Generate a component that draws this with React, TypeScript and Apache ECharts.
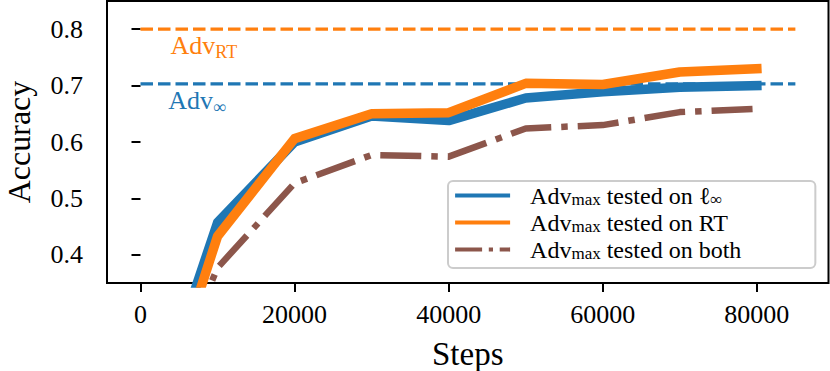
import React, { useEffect, useRef } from 'react';
import * as echarts from 'echarts';

// ---- data ----
const steps = [0, 10000, 20000, 30000, 40000, 50000, 60000, 70000, 80000];
const testedOnLinf = [0.05, 0.457, 0.6, 0.646, 0.638, 0.678, 0.689, 0.697, 0.7];
const testedOnRT = [0.01, 0.433, 0.606, 0.65, 0.652, 0.704, 0.702, 0.724, 0.73];
const testedOnBoth = [0.05, 0.377, 0.527, 0.577, 0.574, 0.624, 0.63, 0.653, 0.659];

const refSteps = [0, 85000];
const advRTLevel = 0.8;
const advInfLevel = 0.703;

const xTicks = [0, 20000, 40000, 60000, 80000];
const yTicks = [0.4, 0.5, 0.6, 0.7, 0.8];

const seriesNames = [
  'Adv_max tested on linf',
  'Adv_max tested on RT',
  'Adv_max tested on both',
];
const legendLabels = [
  '{f|Adv}{s|max}{m| tested on ℓ}{s|∞}',
  '{f|Adv}{s|max}{m| tested on RT}',
  '{f|Adv}{s|max}{m| tested on both}',
];

const BLUE = '#1f77b4';
const ORANGE = '#ff7f0e';
const BROWN = '#8c564b';
const FONT = "'Liberation Serif', 'DejaVu Serif', serif";

const zip = (xs: number[], ys: number[]) => xs.map((x, i) => [x, ys[i]]);

export default function App() {
  const ref = useRef<HTMLDivElement>(null);
  useEffect(() => {
    if (!ref.current) return;
    const chart = echarts.init(ref.current, null, { renderer: 'svg' });
    const annotationRich = {
      m: { fontSize: 26, lineHeight: 26, fontFamily: FONT },
      s: { fontSize: 18, lineHeight: 26, padding: [12, 0, 0, 0], fontFamily: FONT },
    };
    const hidden = { opacity: 0, borderWidth: 0 };
    const option: any = {
      animation: false,
      textStyle: { fontFamily: FONT, color: '#000' },
      grid: {
        left: 107,
        right: 1.5,
        top: 1,
        bottom: 88,
        show: true,
        borderColor: '#000',
        borderWidth: 2,
        backgroundColor: 'transparent',
        outerBoundsMode: 'none',
        containLabel: false,
      },
      xAxis: {
        type: 'value',
        min: -4348,
        max: 89300,
        name: 'Steps',
        nameLocation: 'middle',
        nameGap: 54,
        nameTextStyle: { fontSize: 33, fontFamily: FONT, color: '#000' },
        axisLine: { show: false },
        splitLine: { show: false },
        axisTick: {
          show: true,
          length: 9,
          lineStyle: { color: '#000', width: 2 },
          customValues: xTicks,
        },
        axisLabel: {
          customValues: xTicks,
          margin: 18,
          fontSize: 26,
          color: '#000',
          fontFamily: FONT,
          formatter: (v: number) => String(v),
        },
      },
      yAxis: {
        type: 'value',
        min: 0.35,
        max: 0.85,
        name: 'Accuracy',
        nameLocation: 'middle',
        nameRotate: 90,
        nameGap: 72,
        nameTextStyle: { fontSize: 32, fontFamily: FONT, color: '#000' },
        axisLine: { show: false },
        splitLine: { show: false },
        axisTick: {
          show: true,
          length: 9,
          lineStyle: { color: '#000', width: 2 },
          customValues: yTicks,
        },
        axisLabel: {
          customValues: yTicks,
          margin: 24,
          fontSize: 26,
          color: '#000',
          fontFamily: FONT,
          formatter: (v: number) => v.toFixed(1),
        },
      },
      legend: {
        orient: 'vertical',
        left: 448,
        top: 181,
        selectedMode: false,
        data: [
          { name: seriesNames[0], itemStyle: hidden },
          { name: seriesNames[1], itemStyle: hidden },
          { name: seriesNames[2], itemStyle: hidden, lineStyle: { type: [27, 6.7, 4.2, 6.7] } },
        ],
        itemWidth: 55,
        itemHeight: 14,
        itemGap: 2,
        padding: [2, 74, 6, 5],
        backgroundColor: 'rgba(255,255,255,0.8)',
        borderColor: '#cccccc',
        borderWidth: 2,
        borderRadius: 5,
        itemStyle: hidden,
        lineStyle: { width: 4.2, cap: 'butt', opacity: 1 },
        formatter: (name: string) => legendLabels[seriesNames.indexOf(name)],
        textStyle: {
          color: '#000',
          fontFamily: FONT,
          rich: {
            f: { fontSize: 24, lineHeight: 24, padding: [0, 0, 0, 15], fontFamily: FONT },
            m: { fontSize: 24, lineHeight: 24, fontFamily: FONT },
            s: { fontSize: 17, lineHeight: 24, padding: [8, 0, 0, 0], fontFamily: FONT },
          },
        },
      },
      series: [
        {
          name: 'Adv_RT',
          type: 'line',
          data: zip(refSteps, refSteps.map(() => advRTLevel)),
          symbol: 'none',
          lineStyle: { color: ORANGE, width: 3.3, type: [12.5, 5], cap: 'butt' },
          silent: true,
          markPoint: {
            symbol: 'circle',
            symbolSize: 0,
            silent: true,
            data: [
              {
                coord: [3900, 0.7704],
                label: {
                  show: true,
                  position: 'right',
                  distance: 0,
                  color: ORANGE,
                  formatter: '{m|Adv}{s|RT}',
                  rich: annotationRich,
                },
              },
            ],
          },
        },
        {
          name: 'Adv_inf',
          type: 'line',
          data: zip(refSteps, refSteps.map(() => advInfLevel)),
          symbol: 'none',
          lineStyle: { color: BLUE, width: 3.3, type: [12.5, 5], cap: 'butt' },
          silent: true,
          markPoint: {
            symbol: 'circle',
            symbolSize: 0,
            silent: true,
            data: [
              {
                coord: [3600, 0.6729],
                label: {
                  show: true,
                  position: 'right',
                  distance: 0,
                  color: BLUE,
                  formatter: '{m|Adv}{s|∞}',
                  rich: annotationRich,
                },
              },
            ],
          },
        },
        {
          name: seriesNames[0],
          type: 'line',
          data: zip(steps, testedOnLinf),
          symbol: 'none',
          color: BLUE,
          lineStyle: { color: BLUE, width: 9.5, cap: 'square', join: 'round' },
        },
        {
          name: seriesNames[1],
          type: 'line',
          data: zip(steps, testedOnRT),
          symbol: 'none',
          color: ORANGE,
          lineStyle: { color: ORANGE, width: 9.5, cap: 'square', join: 'round' },
        },
        {
          name: seriesNames[2],
          type: 'line',
          data: zip(steps, testedOnBoth),
          symbol: 'none',
          color: BROWN,
          lineStyle: { color: BROWN, width: 6.5, type: [41, 10, 6.5, 10], cap: 'butt', join: 'round' },
        },
      ],
    };
    chart.setOption(option);
    return () => chart.dispose();
  }, []);
  return <div ref={ref} style={{ width: 830, height: 371, position: 'absolute', left: 0, top: 0 }} />;
}
